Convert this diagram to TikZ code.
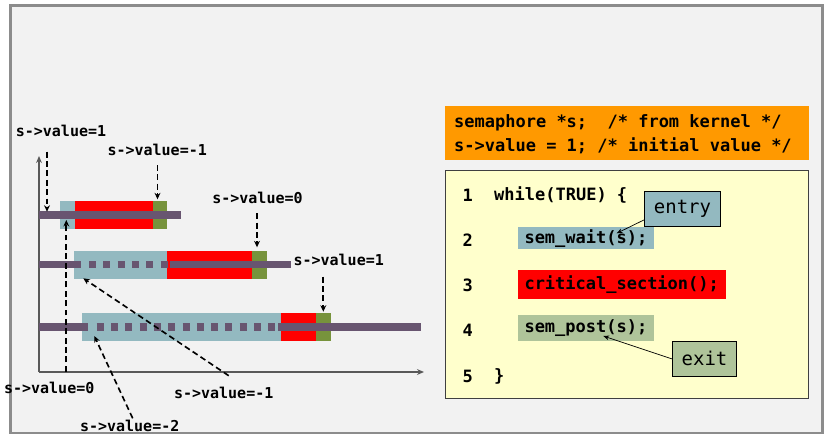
\documentclass[tikz,border=0pt]{standalone}
\usepackage{fontspec}
\usepackage{xcolor}
\usepackage{tikz}
\usetikzlibrary{arrows.meta}
\newfontfamily\codefont{DejaVu Sans Mono}
\definecolor{bgGray}{HTML}{F2F2F2}
\definecolor{frameGray}{HTML}{8C8C8C}
\definecolor{axisGray}{HTML}{595959}
\definecolor{boxBlue}{HTML}{93B9C0}
\definecolor{critRed}{HTML}{FF0000}
\definecolor{postGreen}{HTML}{77933C}
\definecolor{codeGreen}{HTML}{AFC49A}
\definecolor{barPurple}{HTML}{685570}
\definecolor{hdrOrange}{HTML}{FF9900}
\definecolor{codeYellow}{HTML}{FFFFCC}
\definecolor{codeBorder}{HTML}{404040}

\begin{document}
\begin{tikzpicture}[x=0.03cm, y=-0.03cm,
  lbl/.style={font=\codefont\bfseries\fontsize{12.8}{15}\selectfont, inner sep=0pt},
  timebar/.style={draw=barPurple, line width=6pt},
  dotbar/.style={timebar, dash pattern=on 0.21cm off 0.219cm},
  dasharrow/.style={line width=1.4pt, dash pattern=on 5pt off 3pt, -{Stealth[length=5.5pt,width=5pt]}},
  axisline/.style={draw=axisGray, line width=1.2pt, -{Stealth[length=6pt,width=5pt]}},
  code/.style={font=\codefont\bfseries\fontsize{14.5}{19.9}\selectfont, inner sep=0pt},
  hilite/.style={code, anchor=west, inner xsep=0.21cm, inner ysep=0pt},
  tagbox/.style={draw=black, line width=0.8pt, font=\codefont\fontsize{16.2}{19}\selectfont, minimum height=1.03cm, inner sep=0pt},
  thinarrow/.style={line width=0.6pt, -{Stealth[length=5pt,width=4pt]}}]
  \useasboundingbox[fill=white] (0,0) rectangle (831,441);
  \draw[fill=bgGray, draw=frameGray, line width=2pt] (10.5,5.5) rectangle (822.5,433);

  \draw[axisline] (39,372) -- (39,156);
  \draw[axisline] (39,372) -- (424,372);

  \fill[boxBlue]   (60,200.7) rectangle (75,229);
  \fill[critRed]   (75,200.7) rectangle (152.7,229);
  \fill[postGreen] (152.7,200.7) rectangle (166.7,229);
  \draw[timebar]   (39,215) -- (181,215);

  \fill[boxBlue]   (74,250.7) rectangle (167.3,279);
  \fill[critRed]   (167.3,250.7) rectangle (252.3,279);
  \fill[postGreen] (252.3,250.7) rectangle (266.7,279);
  \draw[timebar]   (39,264.3) -- (81,264.3);
  \draw[dotbar]    (89,264.3) -- (167.5,264.3);
  \draw[timebar]   (170,264.3) -- (291,264.3);

  \fill[boxBlue]   (81.7,312.7) rectangle (281,341);
  \fill[critRed]   (281,312.7) rectangle (316,341);
  \fill[postGreen] (316,312.7) rectangle (330.7,341);
  \draw[timebar]   (39,327) -- (88,327);
  \draw[dotbar]    (96.7,327) -- (275.5,327);
  \draw[timebar]   (278,327) -- (420.7,327);

  \node[lbl] (lblA) at (61,131)    {s->value=1};
  \node[lbl] (lblB) at (157.2,150) {s->value=-1};
  \node[lbl] (lblC) at (257.5,197.7) {s->value=0};
  \node[lbl] (lblD) at (338.7,260) {s->value=1};
  \node[lbl] (lblE) at (49.2,387.7) {s->value=0};
  \node[lbl] (lblF) at (223.7,392.7) {s->value=-1};
  \node[lbl] (lblG) at (129.7,425.7) {s->value=-2};

  \coordinate (tailA) at (47,151.7);    \coordinate (headA) at (47,211.7);
  \coordinate (tailB) at (157.5,165);   \coordinate (headB) at (157.5,199.3);
  \coordinate (tailC) at (257,213.3);   \coordinate (headC) at (257,247.3);
  \coordinate (tailD) at (323.3,276.7); \coordinate (headD) at (323.3,311.7);
  \coordinate (tailE) at (66.3,371.7);  \coordinate (headE) at (66.3,220);
  \coordinate (tailF) at (228.7,375.7); \coordinate (headF) at (83.3,278.3);
  \coordinate (tailG) at (132.7,418.3); \coordinate (headG) at (94.3,336);
  \draw[dasharrow] (tailA) -- (headA);
  \draw[dasharrow] (tailB) -- (headB);
  \draw[dasharrow] (tailC) -- (headC);
  \draw[dasharrow] (tailD) -- (headD);
  \draw[dasharrow] (tailE) -- (headE);
  \draw[dasharrow] (tailF) -- (headF);
  \draw[dasharrow] (tailG) -- (headG);

  \node[fill=hdrOrange, anchor=north west, minimum width=10.9cm, minimum height=1.62cm,
        inner sep=0pt] (hdr) at (445,106) {};
  \node[code, anchor=west] (hdr1) at (454,122.7) {semaphore *s;~~/* from kernel */};
  \node[code, anchor=west] (hdr2) at (454,146)   {s->value = 1; /* initial value */};
  \node[draw=codeBorder, fill=codeYellow, line width=0.8pt, minimum width=10.9cm,
        minimum height=6.83cm, anchor=north west, inner sep=0pt] (codebox) at (445,170) {};

  \node[code] (n1) at (467.7,195)   {1};
  \node[code] (n2) at (467.7,240)   {2};
  \node[code] (n3) at (467.7,285)   {3};
  \node[code] (n4) at (467.7,330.7) {4};
  \node[code] (n5) at (467.7,376)   {5};
  \node[code, anchor=west] (c1) at (494,195) {while(TRUE) \{};
  \node[hilite, fill=boxBlue, minimum height=0.65cm]  (c2) at (517.3,238.2) {sem\_wait(s);};
  \node[hilite, fill=critRed, minimum height=0.87cm]  (c3) at (517.3,284.5) {critical\_section();};
  \node[hilite, fill=codeGreen, minimum height=0.78cm] (c4) at (517.3,328) {sem\_post(s);};
  \node[code, anchor=west] (c5) at (494,376) {\}};

  \node[tagbox, fill=boxBlue, minimum width=2.29cm]   (entry) at (682.5,208.85) {entry};
  \node[tagbox, fill=codeGreen, minimum width=1.93cm] (exit)  at (704.5,358.85) {exit};
  \coordinate (waitS) at (616.7,233.3);
  \coordinate (postS) at (603.3,336);
  \draw[thinarrow] ([yshift=-9.5pt]entry.west) -- (waitS);
  \draw[thinarrow] (exit.west) -- (postS);
\end{tikzpicture}
\end{document}
